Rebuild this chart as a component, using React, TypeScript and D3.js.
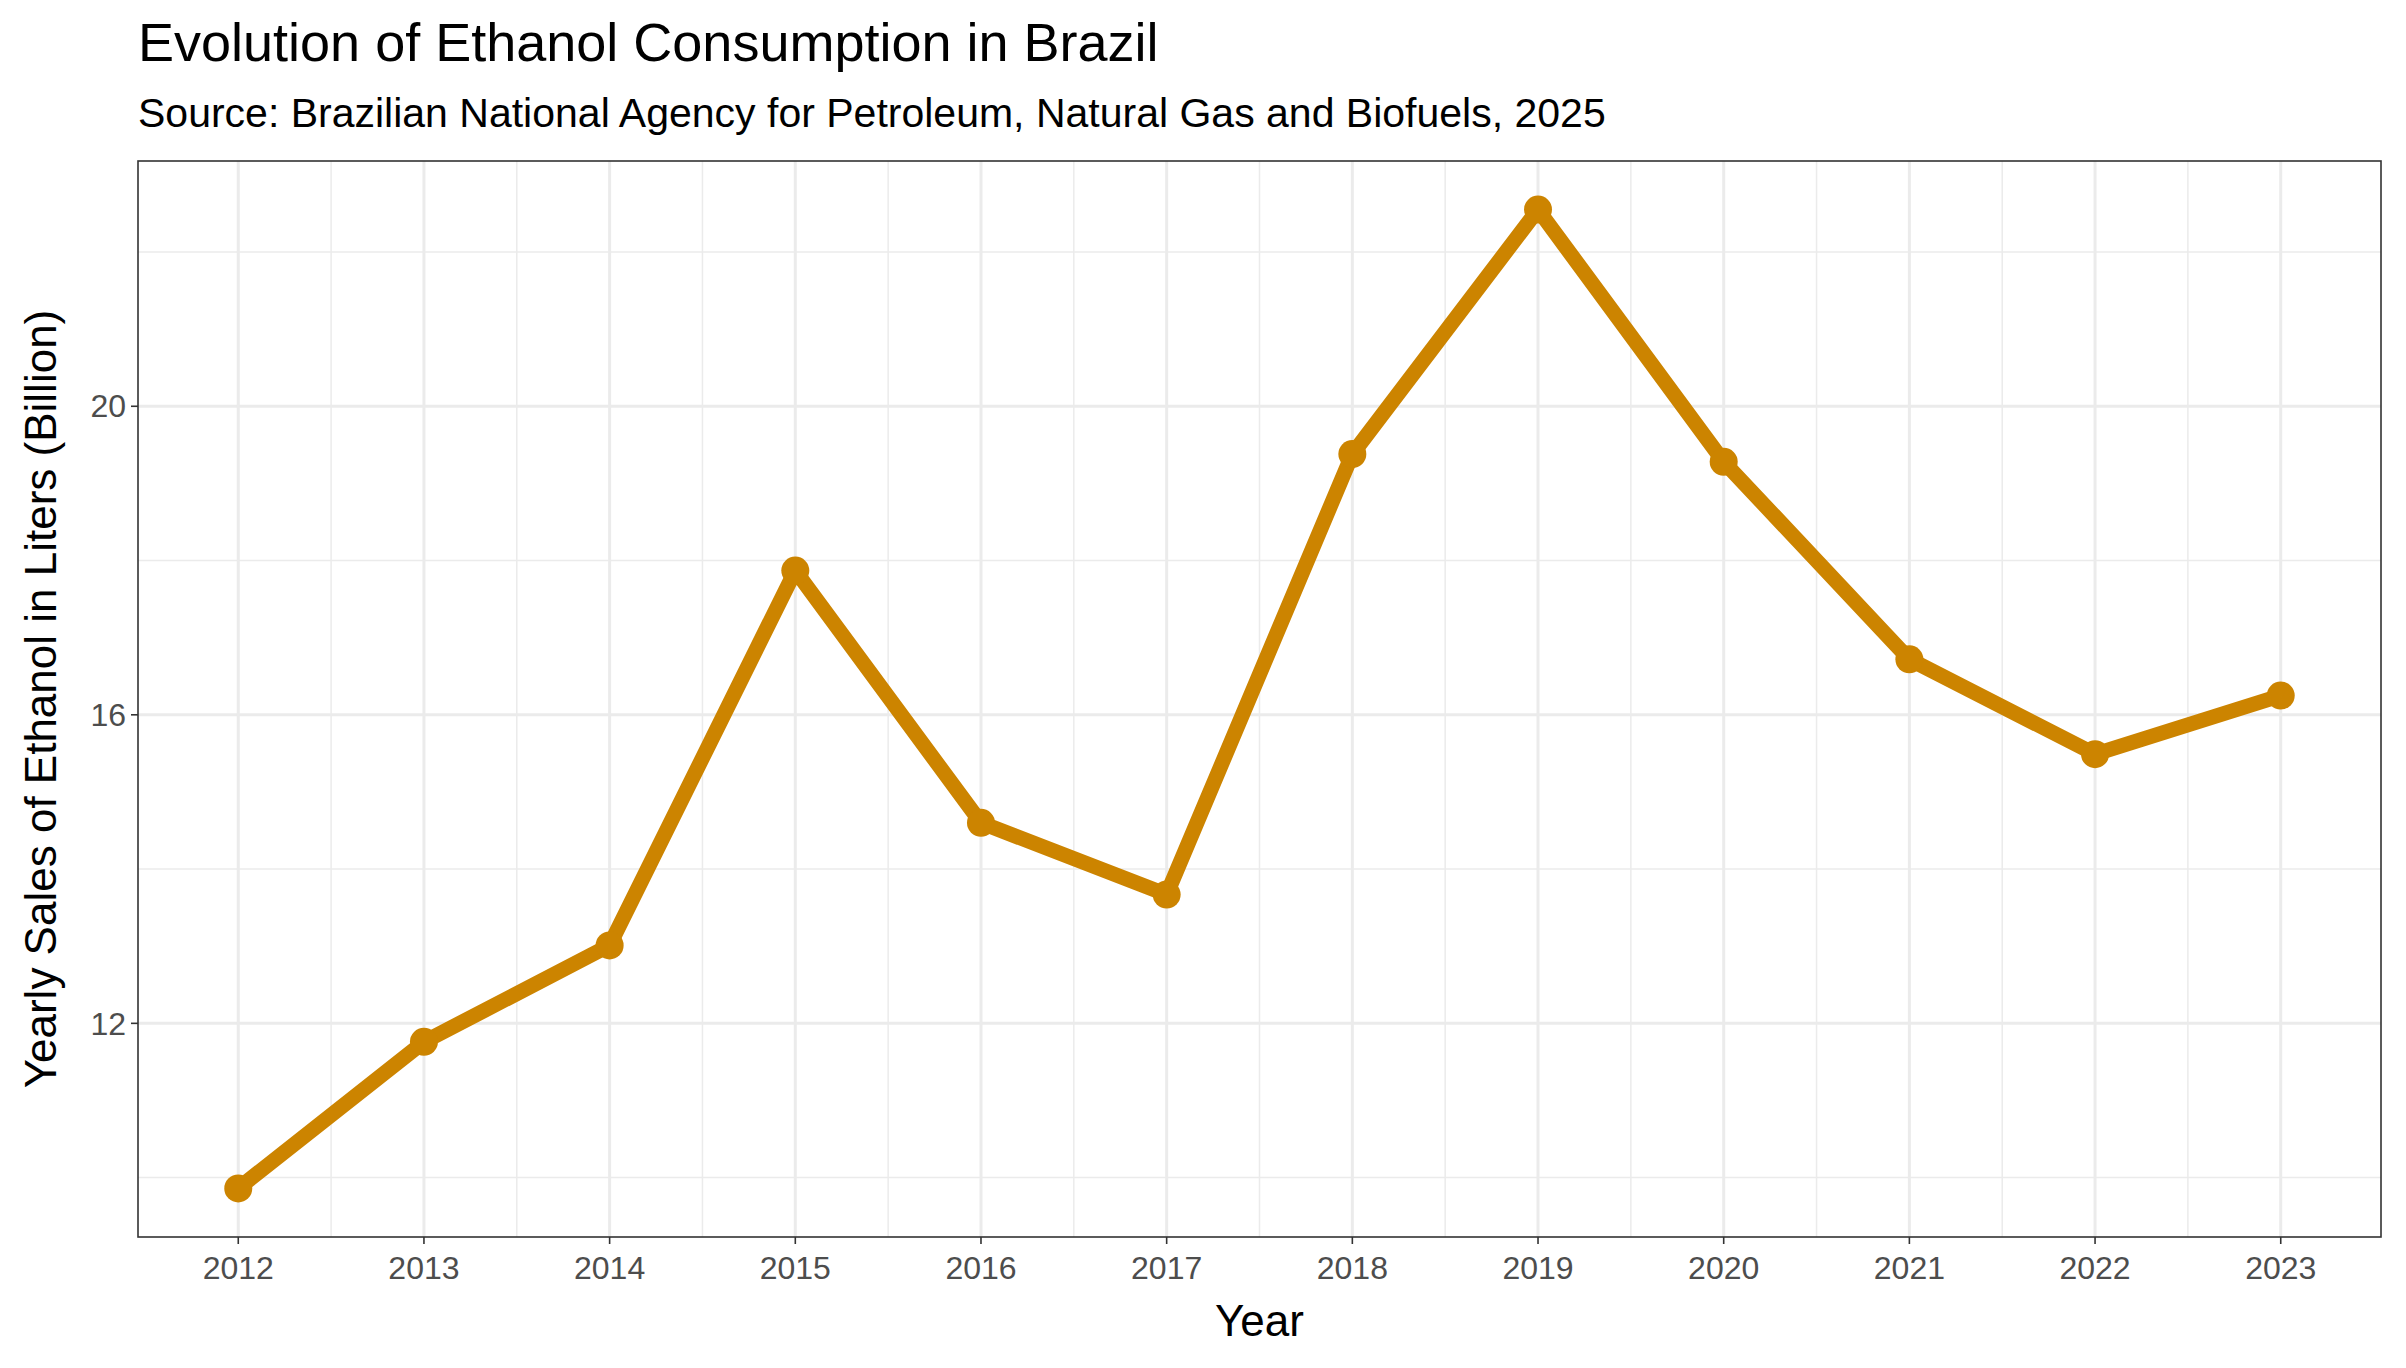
import React from "react";
import * as d3 from "d3";

const years = [2012, 2013, 2014, 2015, 2016, 2017, 2018, 2019, 2020, 2021, 2022, 2023];
const sales = [9.86, 11.76, 13.01, 17.87, 14.6, 13.67, 19.38, 22.55, 19.28, 16.72, 15.49, 16.25];
const yTicks = [12, 16, 20];
const yMinor = [10, 14, 18, 22];

const W = 2406, H = 1368;
const L = 138, R = 2381, T = 161, B = 1237;
const COLOR = "#CC8400";
const FONT = "'Liberation Sans', Arial, sans-serif";

export default function App() {
  const x = d3.scaleLinear().domain([2012 - 0.54, 2023 + 0.54]).range([L, R]);
  const y = d3.scaleLinear().domain([9.23, 23.18]).range([B, T]);
  const line = d3.line<number>().x((_, i) => x(years[i])).y((d) => y(d));
  const xMinor = years.slice(0, -1).map((yr) => yr + 0.5);
  return (
    <div style={{ position: "fixed", left: 0, top: 0 }}>
      <svg width={W} height={H} style={{ display: "block", background: "#fff" }} fontFamily={FONT}>
        <rect x={0} y={0} width={W} height={H} fill="#fff" />
        {yMinor.map((v) => (
          <line key={"ym" + v} x1={L} x2={R} y1={y(v)} y2={y(v)} stroke="#EBEBEB" strokeWidth={1.5} />
        ))}
        {xMinor.map((v) => (
          <line key={"xm" + v} y1={T} y2={B} x1={x(v)} x2={x(v)} stroke="#EBEBEB" strokeWidth={1.5} />
        ))}
        {yTicks.map((v) => (
          <line key={"yg" + v} x1={L} x2={R} y1={y(v)} y2={y(v)} stroke="#EBEBEB" strokeWidth={3} />
        ))}
        {years.map((v) => (
          <line key={"xg" + v} y1={T} y2={B} x1={x(v)} x2={x(v)} stroke="#EBEBEB" strokeWidth={3} />
        ))}
        <path d={line(sales) || ""} fill="none" stroke={COLOR} strokeWidth={15} strokeLinejoin="round" />
        {sales.map((v, i) => (
          <circle key={i} cx={x(years[i])} cy={y(v)} r={14} fill={COLOR} />
        ))}
        <rect x={L} y={T} width={R - L} height={B - T} fill="none" stroke="#333" strokeWidth={1.6} />
        {yTicks.map((v) => (
          <g key={"yt" + v}>
            <line x1={L - 7} x2={L} y1={y(v)} y2={y(v)} stroke="#333" strokeWidth={1.6} />
            <text x={L - 12} y={y(v)} dy="0.35em" textAnchor="end" fontSize={32} fill="#4D4D4D">{v}</text>
          </g>
        ))}
        {years.map((v) => (
          <g key={"xt" + v}>
            <line y1={B} y2={B + 7} x1={x(v)} x2={x(v)} stroke="#333" strokeWidth={1.6} />
            <text x={x(v)} y={B + 42} textAnchor="middle" fontSize={32} fill="#4D4D4D">{v}</text>
          </g>
        ))}
        <text x={(L + R) / 2} y={1336} textAnchor="middle" fontSize={44} fill="#000">Year</text>
        <text transform={`translate(56,${(T + B) / 2}) rotate(-90)`} textAnchor="middle" fontSize={44} fill="#000">
          Yearly Sales of Ethanol in Liters (Billion)
        </text>
        <text x={L} y={61} fontSize={54} fill="#000">Evolution of Ethanol Consumption in Brazil</text>
        <text x={L} y={127} fontSize={41} fill="#000">Source: Brazilian National Agency for Petroleum, Natural Gas and Biofuels, 2025</text>
      </svg>
    </div>
  );
}
